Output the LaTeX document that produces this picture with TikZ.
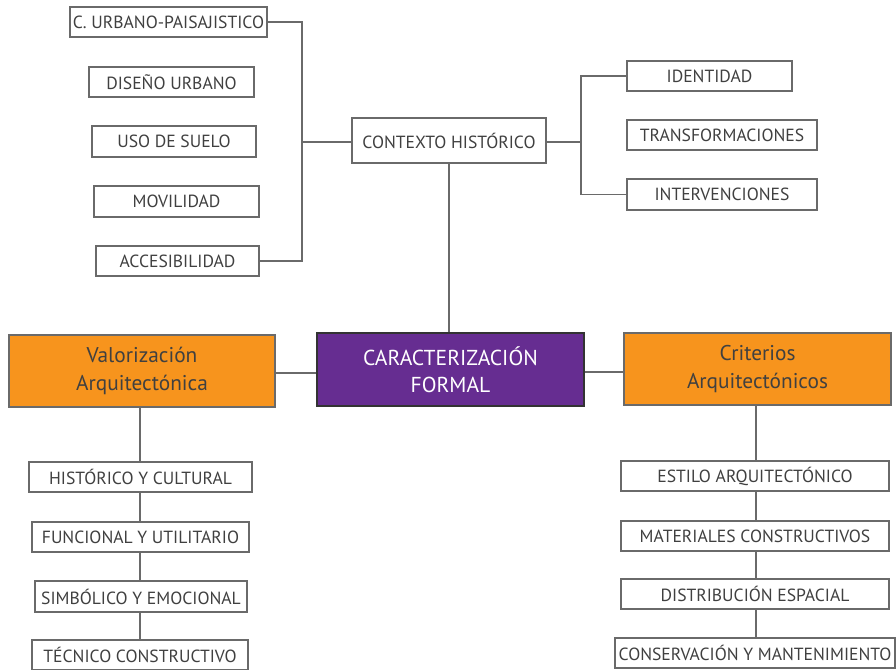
\documentclass[tikz,border=0pt]{standalone}
\usepackage{fontspec}
\setmainfont{PT Sans}
\definecolor{orng}{HTML}{F7941D}
\definecolor{purp}{HTML}{662D91}
\definecolor{txt}{HTML}{404040}
\definecolor{ln}{HTML}{6A6A6A}
\begin{document}
\begin{tikzpicture}[x=0.75pt,y=-0.75pt,
  box/.style={draw=ln, line width=0.8pt, fill=white, text=txt, inner sep=0pt, font=\fontsize{13.2}{15}\selectfont, align=center},
  big/.style={draw=ln, line width=0.8pt, fill=orng, text=txt, inner sep=0pt, font=\fontsize{16}{20.5}\selectfont, align=center},
  mid/.style={draw=black!80, line width=1.6pt, fill=purp, text=white, inner sep=0pt, font=\fontsize{16.2}{20.5}\selectfont, align=center},
  con/.style={draw=ln, line width=0.8pt},
  thickcon/.style={draw=ln, line width=2.2pt}]
\useasboundingbox (0,0) rectangle (896,670);
\newcommand\bx[7]{\node[#1, minimum width={(#5-#3)*0.75pt}, minimum height={(#6-#4)*0.75pt}] (#2) at ({(#3+#5)/2},{(#4+#6)/2}) {#7};}
% left column top
\bx{box}{cu}{70}{7}{267}{37}{C. URBANO-PAISAJISTICO}
\bx{box}{du}{89}{67}{254}{97}{DISEÑO URBANO}
\bx{box}{us}{92}{126}{256}{157}{USO DE SUELO}
\bx{box}{mo}{94}{186}{259}{217}{MOVILIDAD}
\bx{box}{ac}{96}{246}{259}{276}{ACCESIBILIDAD}
% context
\bx{box}{ctx}{352}{118}{546}{163}{CONTEXTO HISTÓRICO}
\bx{box}{id}{627}{61}{792}{91}{IDENTIDAD}
\bx{box}{tr}{627}{120}{817}{150}{TRANSFORMACIONES}
\bx{box}{in}{627}{179}{817}{210}{INTERVENCIONES}
% main row
\bx{big}{val}{9}{335}{275}{407}{Valorización\\Arquitectónica}
\bx{mid}{car}{317}{333}{584}{406}{CARACTERIZACIÓN\\FORMAL}
\bx{big}{cri}{624}{333}{891}{405}{Criterios\\Arquitectónicos}
% bottom left
\bx{box}{hc}{29}{462}{252}{492}{HISTÓRICO Y CULTURAL}
\bx{box}{fu}{32}{522}{249}{552}{FUNCIONAL Y UTILITARIO}
\bx{box}{si}{35}{581}{247}{612}{SIMBÓLICO Y EMOCIONAL}
\bx{box}{te}{32}{640}{248}{670}{TÉCNICO CONSTRUCTIVO}
% bottom right
\bx{box}{es}{621}{461}{889}{491}{ESTILO ARQUITECTÓNICO}
\bx{box}{ma}{621}{521}{889}{551}{MATERIALES CONSTRUCTIVOS}
\bx{box}{di}{621}{579}{889}{609}{DISTRIBUCIÓN ESPACIAL}
\bx{box}{cs}{615}{638}{895}{668}{CONSERVACIÓN Y MANTENIMIENTO}
% connectors
\coordinate (jl) at (302,142);
\coordinate (jr) at (581,142);
\draw[con] (cu.east) -| (jl) |- (ac.east);
\draw[con] (jl) -- (jl -| ctx.west);
\draw[con] (jr -| ctx.east) -- (jr);
\draw[con] (id.west) -| (jr) |- (in.west);
\draw[con] (ctx.south) -- (ctx.south |- car.north);
\coordinate (yl) at (0,373);
\coordinate (yr) at (0,372);
\draw[thickcon] (val.east |- yl) -- (car.west |- yl);
\draw[thickcon] (car.east |- yr) -- (cri.west |- yr);
\coordinate (xl) at (140,0);
\coordinate (xr) at (756,0);
\draw[con] (xl |- val.south) -- (xl |- hc.north);
\draw[con] (xl |- hc.south) -- (xl |- fu.north);
\draw[con] (xl |- fu.south) -- (xl |- si.north);
\draw[con] (xl |- si.south) -- (xl |- te.north);
\draw[con] (xr |- cri.south) -- (xr |- es.north);
\draw[con] (xr |- es.south) -- (xr |- ma.north);
\draw[con] (xr |- ma.south) -- (xr |- di.north);
\draw[con] (xr |- di.south) -- (xr |- cs.north);
\end{tikzpicture}
\end{document}
